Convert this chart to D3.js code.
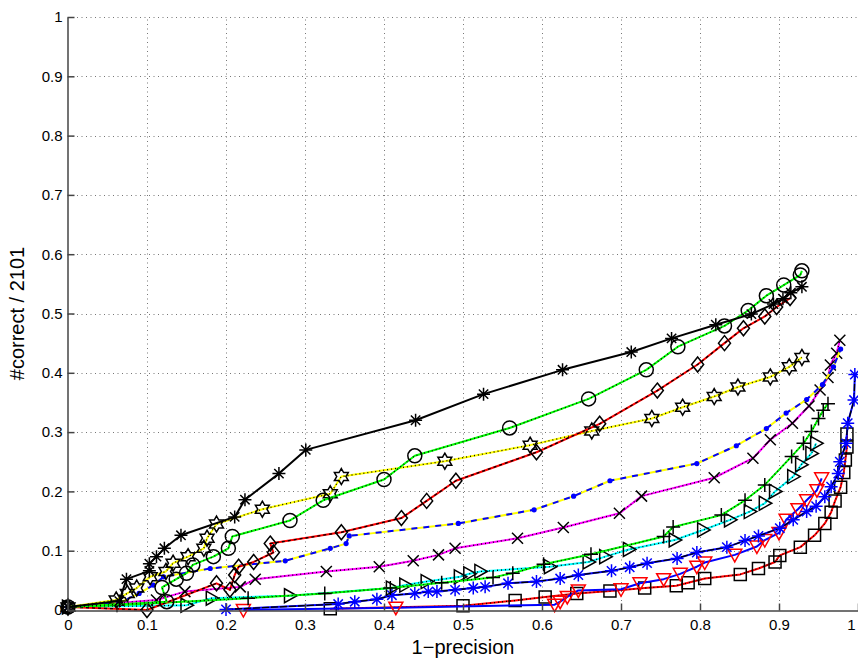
<!DOCTYPE html>
<html>
<head>
<meta charset="utf-8">
<script src="https://cdn.jsdelivr.net/npm/d3@7"></script>
<style>
  body { margin: 0; background: #fff; }
  text { font-family: "Liberation Sans", Arial, Helvetica, sans-serif; }
</style>
</head>
<body>
<svg id="chart" width="858" height="658"></svg>
<script>
// Axis ticks
const tickValues = [0, 0.1, 0.2, 0.3, 0.4, 0.5, 0.6, 0.7, 0.8, 0.9, 1];
const tickLabels = ["0", "0.1", "0.2", "0.3", "0.4", "0.5", "0.6", "0.7", "0.8", "0.9", "1"];
const xTitle = "1\u2212precision";
const yTitle = "#correct / 2101";

// Curves: 1-precision (x) against recall fraction (y)
const starX = [0, 0.065, 0.074, 0.103, 0.103, 0.112, 0.122, 0.143, 0.211, 0.224, 0.267, 0.301, 0.44, 0.526, 0.626, 0.713, 0.764, 0.82, 0.865, 0.893, 0.905, 0.915, 0.929];
const starY = [0.005, 0.015, 0.052, 0.066, 0.078, 0.09, 0.104, 0.126, 0.157, 0.186, 0.23, 0.27, 0.32, 0.364, 0.405, 0.435, 0.458, 0.481, 0.499, 0.516, 0.525, 0.535, 0.545];

const circX = [0, 0.125, 0.119, 0.137, 0.15, 0.158, 0.184, 0.203, 0.208, 0.281, 0.323, 0.4, 0.439, 0.559, 0.659, 0.732, 0.772, 0.831, 0.861, 0.884, 0.906, 0.927, 0.929];
const circY = [0.005, 0.014, 0.038, 0.052, 0.062, 0.076, 0.09, 0.104, 0.124, 0.151, 0.185, 0.22, 0.26, 0.307, 0.356, 0.405, 0.444, 0.479, 0.505, 0.53, 0.548, 0.565, 0.572];

const diamX = [0, 0.1, 0.188, 0.205, 0.211, 0.216, 0.235, 0.26, 0.256, 0.346, 0.422, 0.454, 0.491, 0.593, 0.673, 0.746, 0.797, 0.831, 0.855, 0.882, 0.897, 0.914];
const diamY = [0.005, 0.0, 0.045, 0.034, 0.059, 0.073, 0.081, 0.097, 0.112, 0.131, 0.155, 0.184, 0.218, 0.266, 0.314, 0.37, 0.414, 0.45, 0.475, 0.495, 0.511, 0.526];

const hexX = [0, 0.061, 0.075, 0.087, 0.104, 0.124, 0.133, 0.152, 0.172, 0.176, 0.188, 0.246, 0.332, 0.346, 0.477, 0.585, 0.663, 0.739, 0.778, 0.818, 0.848, 0.889, 0.913, 0.929];
const hexY = [0.005, 0.017, 0.028, 0.037, 0.056, 0.065, 0.079, 0.09, 0.104, 0.121, 0.145, 0.17, 0.196, 0.225, 0.251, 0.278, 0.302, 0.323, 0.342, 0.36, 0.376, 0.393, 0.41, 0.426];

const dotX = [0, 0.065, 0.09, 0.108, 0.121, 0.18, 0.275, 0.332, 0.352, 0.356, 0.494, 0.59, 0.64, 0.686, 0.796, 0.846, 0.884, 0.909, 0.935, 0.955, 0.969, 0.978];
const dotY = [0.005, 0.012, 0.028, 0.042, 0.056, 0.07, 0.083, 0.104, 0.112, 0.125, 0.146, 0.169, 0.192, 0.218, 0.247, 0.277, 0.306, 0.332, 0.355, 0.38, 0.41, 0.44];

const crossX = [0, 0.112, 0.148, 0.218, 0.237, 0.327, 0.394, 0.437, 0.469, 0.49, 0.569, 0.627, 0.698, 0.726, 0.818, 0.867, 0.889, 0.917, 0.938, 0.952, 0.962, 0.965, 0.973, 0.977];
const crossY = [0.005, 0.017, 0.031, 0.039, 0.052, 0.065, 0.073, 0.083, 0.093, 0.104, 0.121, 0.139, 0.163, 0.192, 0.223, 0.256, 0.287, 0.315, 0.344, 0.371, 0.392, 0.413, 0.433, 0.455];

const plusX = [0, 0.062, 0.228, 0.325, 0.408, 0.473, 0.538, 0.563, 0.602, 0.662, 0.754, 0.766, 0.827, 0.857, 0.882, 0.916, 0.931, 0.941, 0.95, 0.956, 0.962];
const plusY = [0.005, 0.008, 0.02, 0.028, 0.037, 0.046, 0.055, 0.062, 0.077, 0.094, 0.124, 0.14, 0.16, 0.185, 0.211, 0.259, 0.281, 0.301, 0.323, 0.337, 0.348];

const triX = [0, 0.15, 0.182, 0.281, 0.41, 0.427, 0.454, 0.496, 0.508, 0.522, 0.61, 0.659, 0.68, 0.71, 0.768, 0.804, 0.838, 0.863, 0.882, 0.895, 0.918, 0.928, 0.941, 0.947];
const triY = [0.005, 0.008, 0.02, 0.024, 0.037, 0.042, 0.048, 0.056, 0.061, 0.065, 0.073, 0.081, 0.09, 0.102, 0.118, 0.135, 0.152, 0.166, 0.18, 0.2, 0.225, 0.245, 0.264, 0.281];

const bstarX = [0.2, 0.342, 0.363, 0.391, 0.41, 0.439, 0.456, 0.467, 0.49, 0.513, 0.528, 0.557, 0.593, 0.623, 0.646, 0.688, 0.711, 0.733, 0.771, 0.796, 0.834, 0.857, 0.874, 0.901, 0.918, 0.935, 0.947, 0.958, 0.966, 0.975, 0.977, 0.985, 0.987, 0.995, 0.996];
const bstarY = [0.001, 0.01, 0.014, 0.018, 0.025, 0.028, 0.031, 0.031, 0.034, 0.037, 0.039, 0.045, 0.048, 0.053, 0.059, 0.066, 0.072, 0.079, 0.087, 0.097, 0.106, 0.117, 0.125, 0.138, 0.152, 0.166, 0.175, 0.191, 0.208, 0.23, 0.25, 0.281, 0.315, 0.354, 0.397];

const vtriX = [0.222, 0.415, 0.616, 0.623, 0.632, 0.646, 0.7, 0.724, 0.754, 0.775, 0.796, 0.806, 0.844, 0.872, 0.882, 0.9, 0.909, 0.924, 0.935, 0.948, 0.954];
const vtriY = [0.0, 0.004, 0.009, 0.014, 0.022, 0.033, 0.035, 0.045, 0.052, 0.061, 0.073, 0.08, 0.093, 0.107, 0.118, 0.13, 0.152, 0.17, 0.185, 0.202, 0.222];

const sqX = [0.332, 0.5, 0.566, 0.604, 0.644, 0.686, 0.73, 0.77, 0.785, 0.806, 0.851, 0.874, 0.895, 0.901, 0.927, 0.945, 0.958, 0.966, 0.971, 0.978, 0.982, 0.984, 0.986, 0.986];
const sqY = [0.002, 0.007, 0.016, 0.022, 0.028, 0.032, 0.037, 0.041, 0.046, 0.053, 0.06, 0.07, 0.081, 0.092, 0.106, 0.126, 0.146, 0.165, 0.184, 0.207, 0.232, 0.253, 0.275, 0.297];

// Line and marker styling for each curve
const curves = [
  { xs: sqX,    ys: sqY,    line: "#ff0000", over: "#000", dash: "1,3",  marker: "square",   mcolor: "#000" },
  { xs: vtriX,  ys: vtriY,  line: "#0000ff", over: null,                 marker: "down",     mcolor: "#ff0000" },
  { xs: bstarX, ys: bstarY, line: "#0000ff", over: "#000", dash: "7,2",  marker: "asterisk", mcolor: "#0000ff" },
  { xs: triX,   ys: triY,   line: "#00ffff", over: "#000", dash: "1,3",  marker: "right",    mcolor: "#000" },
  { xs: plusX,  ys: plusY,  line: "#00ff00", over: "#000", dash: "1,3",  marker: "plus",     mcolor: "#000" },
  { xs: crossX, ys: crossY, line: "#ff00ff", over: "#000", dash: "1,3",  marker: "cross",    mcolor: "#000" },
  { xs: dotX,   ys: dotY,   line: "#ffff00", over: "#0000ff", dash: "6,6", marker: "dot",    mcolor: "#0000ff" },
  { xs: hexX,   ys: hexY,   line: "#ffff00", over: "#000", dash: "1,3",  marker: "hexagram", mcolor: "#000" },
  { xs: diamX,  ys: diamY,  line: "#ff0000", over: "#000", dash: "3,3",  marker: "diamond",  mcolor: "#000" },
  { xs: circX,  ys: circY,  line: "#00ff00", over: "#000", dash: "1,3",  marker: "circle",   mcolor: "#000" },
  { xs: starX,  ys: starY,  line: "#000000", over: null,                 marker: "asterisk", mcolor: "#000" }
];

const W = 858, H = 658;
const x = d3.scaleLinear().domain([0, 1]).range([68, 858]);
const y = d3.scaleLinear().domain([0, 1]).range([610, 17]);

const svg = d3.select("#chart");
svg.append("rect").attr("width", W).attr("height", H).attr("fill", "#fff");

// Dotted grid
const grid = svg.append("g").attr("stroke", "#777").attr("stroke-width", 1).attr("stroke-dasharray", "1,3.5");
tickValues.slice(1).forEach(t => {
  grid.append("line").attr("x1", Math.round(x(t)) + 0.5).attr("x2", Math.round(x(t)) + 0.5)
    .attr("y1", y(0)).attr("y2", y(1));
  grid.append("line").attr("x1", x(0)).attr("x2", x(1))
    .attr("y1", Math.round(y(t)) + 0.5).attr("y2", Math.round(y(t)) + 0.5);
});

// Marker shapes
function markerPath(type) {
  switch (type) {
    case "asterisk": {
      const r = 6.5, d = r * 0.72;
      return `M${-r},0L${r},0M0,${-r}L0,${r}M${-d},${-d}L${d},${d}M${-d},${d}L${d},${-d}`;
    }
    case "plus": return "M-7,0L7,0M0,-7L0,7";
    case "cross": return "M-5.5,-5.5L5.5,5.5M-5.5,5.5L5.5,-5.5";
    case "square": return "M-6,-6L6,-6L6,6L-6,6Z";
    case "diamond": return "M0,-7.5L6,0L0,7.5L-6,0Z";
    case "right": return "M-5.5,-7L7,0L-5.5,7Z";
    case "down": return "M-7,-5.5L7,-5.5L0,7Z";
    case "hexagram": {
      const ro = 8, ri = ro / Math.sqrt(3);
      const pts = d3.range(12).map(i => {
        const a = -Math.PI / 2 + i * Math.PI / 6, r = i % 2 ? ri : ro;
        return [r * Math.cos(a), r * Math.sin(a)];
      });
      return "M" + pts.map(p => p[0].toFixed(2) + "," + p[1].toFixed(2)).join("L") + "Z";
    }
    default: return null;
  }
}

const lineGen = d3.line().x(d => x(d[0])).y(d => y(d[1]));

curves.forEach(c => {
  const pts = c.xs.map((v, i) => [v, c.ys[i]]);
  const g = svg.append("g");
  g.append("path").attr("d", lineGen(pts)).attr("fill", "none")
    .attr("stroke", c.line).attr("stroke-width", 2).attr("stroke-linejoin", "round");
  if (c.over) {
    g.append("path").attr("d", lineGen(pts)).attr("fill", "none")
      .attr("stroke", c.over).attr("stroke-width", c.marker === "dot" ? 2 : 1.3)
      .attr("stroke-dasharray", c.dash);
  }
  if (c.marker === "dot") {
    g.selectAll("circle.m").data(pts).join("circle")
      .attr("cx", d => x(d[0])).attr("cy", d => y(d[1])).attr("r", 2.6)
      .attr("fill", c.mcolor);
  } else if (c.marker === "circle") {
    g.selectAll("circle.m").data(pts).join("circle")
      .attr("cx", d => x(d[0])).attr("cy", d => y(d[1])).attr("r", 7)
      .attr("fill", "none").attr("stroke", c.mcolor).attr("stroke-width", 1.5);
  } else {
    const p = markerPath(c.marker);
    g.selectAll("path.m").data(pts).join("path")
      .attr("transform", d => `translate(${x(d[0])},${y(d[1])})`)
      .attr("d", p).attr("fill", "none")
      .attr("stroke", c.mcolor).attr("stroke-width", 1.5);
  }
});

// Axes
const fmt = (d, i) => tickLabels[i];
const xAxis = d3.axisBottom(x).tickValues(tickValues).tickFormat(fmt)
  .tickSizeInner(-7).tickSizeOuter(0).tickPadding(9);
const yAxis = d3.axisLeft(y).tickValues(tickValues).tickFormat(fmt)
  .tickSizeInner(-7).tickSizeOuter(0).tickPadding(5);

const gx = svg.append("g").attr("transform", "translate(0,610.5)").call(xAxis);
const gy = svg.append("g").attr("transform", "translate(67.5,0)").call(yAxis);
[gx, gy].forEach(g => {
  g.select(".domain").attr("stroke", "#444").attr("stroke-width", 1.5);
  g.selectAll(".tick line").attr("stroke", "#444").attr("stroke-width", 1.5);
  g.selectAll(".tick text").attr("fill", "#000")
    .style("font-family", "'Liberation Sans', Arial, sans-serif").style("font-size", "15px");
});
// the last x label sits on the right edge; keep it just inside
gx.selectAll(".tick text").filter((d, i) => i === tickValues.length - 1)
  .attr("text-anchor", "end").attr("dx", "-0.2em");

// Axis titles
svg.append("text").attr("x", x(0.5)).attr("y", 654).attr("text-anchor", "middle")
  .style("font-size", "20px").attr("fill", "#000").text(xTitle);
svg.append("text").attr("transform", `translate(24,${(y(0) + y(1)) / 2}) rotate(-90)`)
  .attr("text-anchor", "middle").style("font-size", "20px").attr("fill", "#000").text(yTitle);
</script>
</body>
</html>
